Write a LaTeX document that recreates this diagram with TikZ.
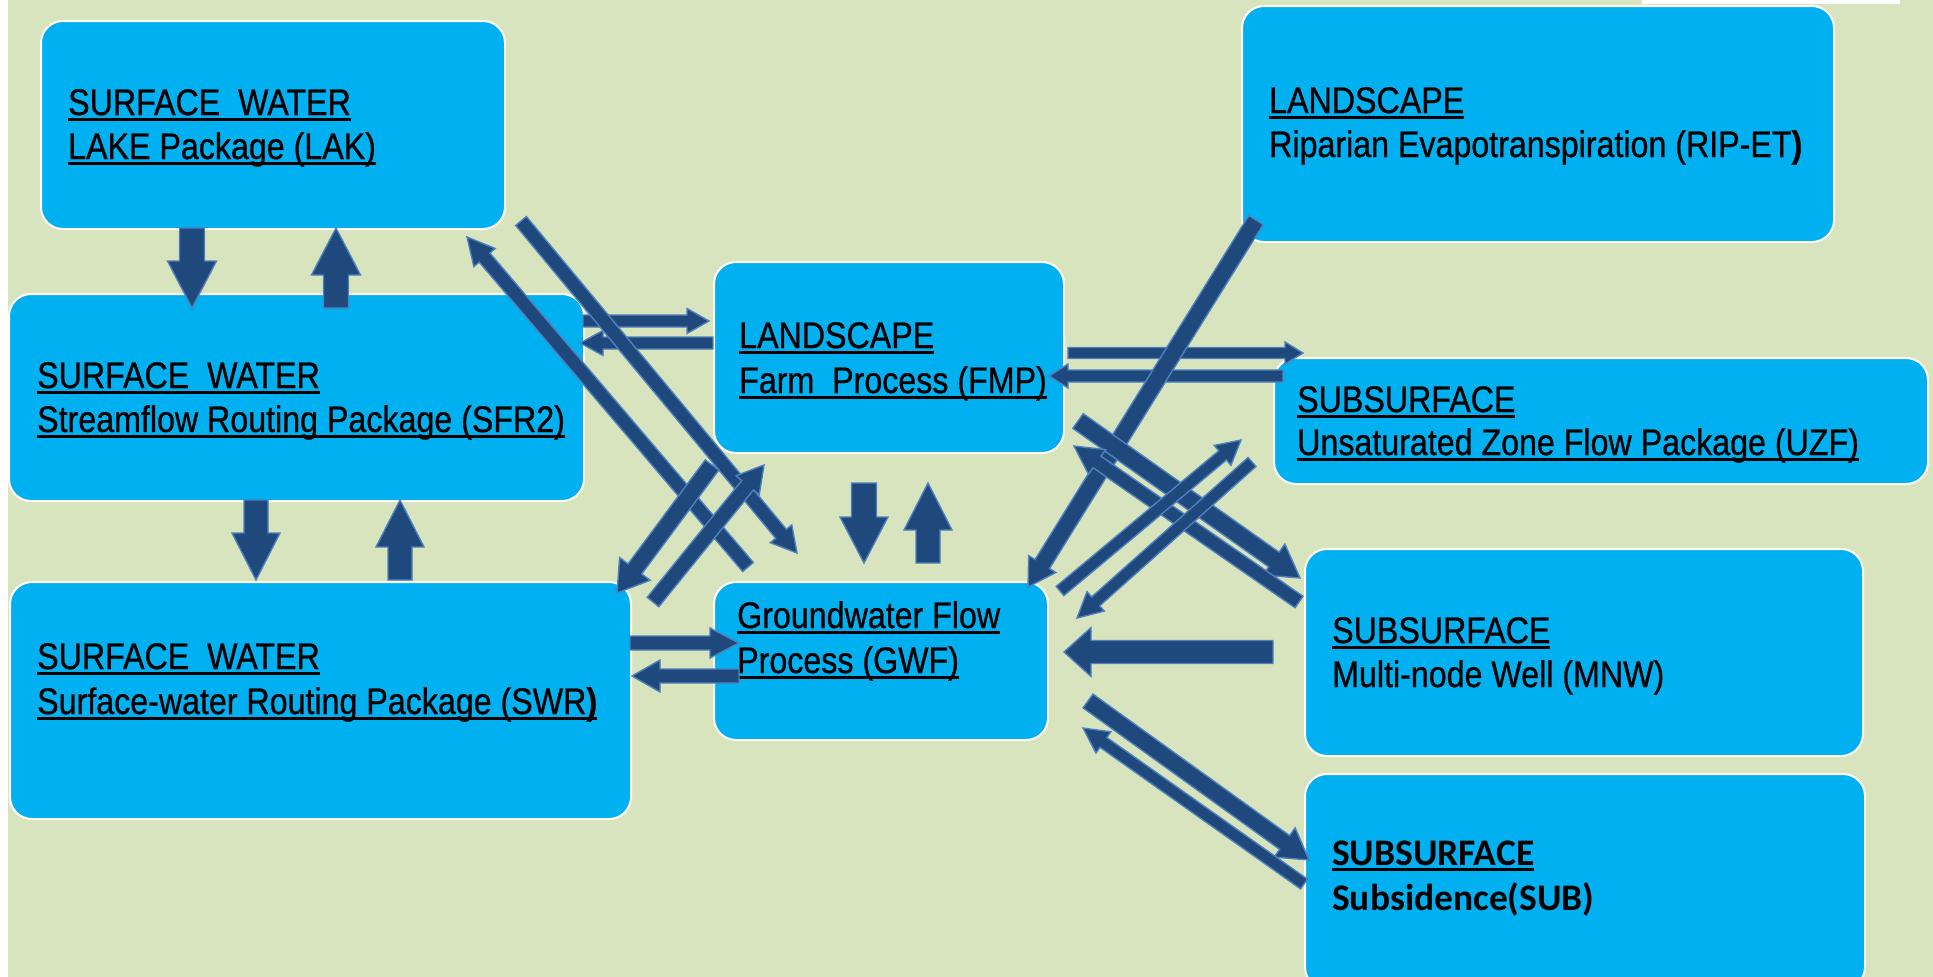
\documentclass[tikz,border=0pt]{standalone}
\usepackage{fontspec}
\setmainfont{Liberation Sans}[FakeStretch=0.87, FakeBold=0.7]
\newfontfamily\subfont{Carlito}
\usetikzlibrary{calc}
\newsavebox{\ulbox}
\newcommand\myul[1]{\sbox{\ulbox}{#1}\rlap{\rule[-6pt]{\wd\ulbox}{3pt}}\usebox{\ulbox}}
\definecolor{bggreen}{HTML}{D7E4BD}
\definecolor{boxblue}{HTML}{00B0F0}
\definecolor{arrfill}{HTML}{1F497D}
\definecolor{arrline}{HTML}{4F81BD}
\tikzset{
  box/.style={fill=boxblue, draw=white, line width=2pt, rounded corners=22pt, anchor=north west, inner sep=0pt},
  lbl/.style={anchor=base west, inner sep=0pt, font=\fontsize{37}{44}\selectfont},
  sublbl/.style={anchor=base west, inner sep=0pt, font=\subfont\bfseries\fontsize{37.5}{44}\selectfont},
  barr/.style={fill=arrfill, draw=arrline, line width=1.4pt, line join=miter}
}
\newcommand\blockarr[5]{%
  \path let \p1=(#1), \p2=(#2) in \pgfextra{%
    \pgfmathsetmacro\tmpang{atan2(\y2-\y1,\x2-\x1)}%
    \pgfmathsetmacro\tmplen{veclen(\x2-\x1,\y2-\y1)}%
    \xdef\bang{\tmpang}\xdef\blen{\tmplen}\xdef\bsx{\x1}\xdef\bsy{\y1}};
  \begin{scope}[shift={(\bsx,\bsy)}, rotate=\bang, x=1pt, y=1pt]
    \filldraw[barr] (0,{-#3/2}) -- ({\blen-#5},{-#3/2}) -- ({\blen-#5},{-#4/2}) -- (\blen,0)
      -- ({\blen-#5},{#4/2}) -- ({\blen-#5},{#3/2}) -- (0,{#3/2}) -- cycle;
  \end{scope}%
}
\begin{document}
\begin{tikzpicture}[x=1pt, y=-1pt]
\useasboundingbox (0,0) rectangle (1933,977);
\fill[white] (0,0) rectangle (1933,977);
\fill[bggreen] (8,0) rectangle (1933,977);
\fill[white] (1642,0) rectangle (1900,4);

% boxes
\node[box, minimum width=464pt, minimum height=208pt] (lak) at (40,20) {};
\node[box, minimum width=575pt, minimum height=207pt] (sfr) at (8,293) {};
\node[box, minimum width=621pt, minimum height=237pt] (swr) at (9,581) {};
\node[box, minimum width=350pt, minimum height=191pt] (fmp) at (713,261) {};
\node[box, minimum width=334pt, minimum height=158pt] (gwf) at (713,581) {};
\node[box, minimum width=592pt, minimum height=236pt] (rip) at (1241,5) {};
\node[box, minimum width=654pt, minimum height=126pt] (uzf) at (1273,357) {};
\node[box, minimum width=558pt, minimum height=207pt] (mnw) at (1304,548) {};
\node[box, minimum width=560pt, minimum height=215pt] (sub) at (1304,773) {};

% texts
\node[lbl] (lakA) at (68,115) {\myul{SURFACE\ \ WATER}};
\node[lbl] (lakB) at (68,159) {\myul{LAKE Package (LAK)}};
\node[lbl] (sfrA) at (37,388) {\myul{SURFACE\ \ WATER}};
\node[lbl] (sfrB) at (37,432) {\myul{Streamflow Routing Package (SFR2)}};
\node[lbl] (swrA) at (37,669) {\myul{SURFACE\ \ WATER}};
\node[lbl] (swrB) at (37,714) {\myul{Surface-water Routing Package (SWR\textbf{)}}};
\node[lbl] (fmpA) at (739,348) {\myul{LANDSCAPE}};
\node[lbl] (fmpB) at (739,393) {\myul{Farm\ \ Process (FMP)}};
\node[lbl] (gwfA) at (737,628) {\myul{Groundwater Flow}};
\node[lbl] (gwfB) at (737,673) {\myul{Process (GWF)}};
\node[lbl] (ripA) at (1269,113) {\myul{LANDSCAPE}};
\node[lbl] (ripB) at (1269,157) {Riparian Evapotranspiration (RIP-ET\textbf{)}};
\node[lbl] (uzfA) at (1297,412) {\myul{SUBSURFACE}};
\node[lbl] (uzfB) at (1297,455) {\myul{Unsaturated Zone Flow Package (UZF)}};
\node[lbl] (mnwA) at (1332,643) {\myul{SUBSURFACE}};
\node[lbl] (mnwB) at (1332,687) {Multi-node Well (MNW)};
\node[sublbl] (subA) at (1332,865) {\myul{SUBSURFACE}};
\node[sublbl] (subB) at (1332,910) {Subsidence(SUB)};

% arrow end points
\coordinate (a1s) at (192,228); \coordinate (a1e) at (192,308);
\coordinate (a2s) at (336,308); \coordinate (a2e) at (336,228);
\coordinate (c1s) at (256,500); \coordinate (c1e) at (256,580);
\coordinate (c2s) at (400,580); \coordinate (c2e) at (400,500);
\coordinate (e1s) at (583,321); \coordinate (e1e) at (709,321);
\coordinate (e2s) at (713,343); \coordinate (e2e) at (580,343);
\coordinate (f1s) at (630,643); \coordinate (f1e) at (739,643);
\coordinate (f2s) at (739,676); \coordinate (f2e) at (632,676);
\coordinate (g1s) at (521,221); \coordinate (g1e) at (797,553);
\coordinate (g2s) at (748,567); \coordinate (g2e) at (467,237);
\coordinate (h1s) at (712,465); \coordinate (h1e) at (617,593);
\coordinate (h2s) at (653,602); \coordinate (h2e) at (764,465);
\coordinate (i1s) at (864,483); \coordinate (i1e) at (864,563);
\coordinate (i2s) at (928,563); \coordinate (i2e) at (928,483);
\coordinate (j1s) at (1068,353); \coordinate (j1e) at (1303,353);
\coordinate (j2s) at (1283,376); \coordinate (j2e) at (1049,376);
\coordinate (ks) at (1256,220); \coordinate (ke) at (1028,587);
\coordinate (l1s) at (1078,421); \coordinate (l1e) at (1300,578);
\coordinate (l2s) at (1299,602); \coordinate (l2e) at (1074,446);
\coordinate (m1s) at (1060,591); \coordinate (m1e) at (1241,440);
\coordinate (m2s) at (1252,462); \coordinate (m2e) at (1077,618);
\coordinate (ns) at (1273,652); \coordinate (ne) at (1064,652);
\coordinate (o1s) at (1088,701); \coordinate (o1e) at (1309,860);
\coordinate (o2s) at (1304,884); \coordinate (o2e) at (1083,728);

% arrows
\blockarr{a1s}{a1e}{25}{49}{47}
\blockarr{a2s}{a2e}{25}{49}{47}
\blockarr{c1s}{c1e}{24}{48}{47}
\blockarr{c2s}{c2e}{24}{48}{47}
\blockarr{e1s}{e1e}{12}{25}{22}
\blockarr{e2s}{e2e}{12}{25}{23}
\blockarr{f1s}{f1e}{14}{30}{29}
\blockarr{f2s}{f2e}{14}{32}{28}
\blockarr{g1s}{g1e}{14}{28}{25}
\blockarr{g2s}{g2e}{14}{28}{27}
\blockarr{h1s}{h1e}{17}{38}{30}
\blockarr{h2s}{h2e}{15}{30}{26}
\blockarr{i1s}{i1e}{25}{48}{46}
\blockarr{i2s}{i2e}{24}{48}{47}
\blockarr{j1s}{j1e}{11}{22}{18}
\blockarr{j2s}{j2e}{12}{24}{19}
\blockarr{ks}{ke}{17}{32}{27}
\blockarr{l1s}{l1e}{18}{38}{32}
\blockarr{l2s}{l2e}{14}{30}{28}
\blockarr{m1s}{m1e}{12}{26}{24}
\blockarr{m2s}{m2e}{12}{26}{25}
\blockarr{ns}{ne}{23}{49}{27}
\blockarr{o1s}{o1e}{17}{36}{30}
\blockarr{o2s}{o2e}{12}{26}{25}
\end{tikzpicture}
\end{document}
